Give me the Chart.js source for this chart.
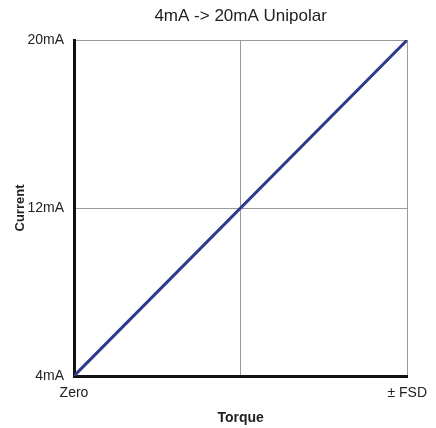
<!DOCTYPE html>
<html>
<head>
<meta charset="utf-8">
<script src="https://cdn.jsdelivr.net/npm/chart.js@4"></script>
<style>
  html, body { margin: 0; padding: 0; background: #ffffff; }
  #wrap { width: 436px; height: 428px; position: relative; }
</style>
</head>
<body>
<div id="wrap"><canvas id="c"></canvas></div>
<script>
const chartTitle = '4mA -> 20mA Unipolar';
const xAxisTitle = 'Torque';
const yAxisTitle = 'Current';
const torqueValues = [0, 1];
const currentValues = [4, 20];
const xTickValues = [0, 0.5, 1];
const xTickLabels = ['Zero', '', '± FSD'];
const yTickValues = [4, 12, 20];
const yTickLabels = ['4mA', '12mA', '20mA'];

const FONT = "Arial, 'Liberation Sans', Helvetica, sans-serif";
const TEXT = '#222222';

const titlePlugin = {
  id: 'centeredTitle',
  afterDraw(chart) {
    const ctx = chart.ctx;
    const a = chart.chartArea;
    ctx.save();
    ctx.font = '17px ' + FONT;
    ctx.fillStyle = TEXT;
    ctx.textAlign = 'center';
    ctx.textBaseline = 'middle';
    ctx.fillText(chartTitle, (a.left + a.right) / 2, 16);
    ctx.restore();
  }
};

new Chart(document.getElementById('c'), {
  type: 'scatter',
  data: {
    datasets: [{
      data: torqueValues.map((x, i) => ({ x: x, y: currentValues[i] })),
      showLine: true,
      borderColor: '#2c3a8c',
      borderWidth: 3,
      pointRadius: 0,
      pointHoverRadius: 0,
      fill: false
    }]
  },
  options: {
    responsive: true,
    maintainAspectRatio: false,
    animation: false,
    layout: { padding: { top: 40, right: 27, left: 0, bottom: 0 } },
    plugins: {
      legend: { display: false },
      title: { display: false },
      tooltip: { enabled: false }
    },
    scales: {
      x: {
        type: 'linear',
        min: 0,
        max: 1,
        afterFit: s => { s.height = 52; },
        afterBuildTicks: s => { s.ticks = xTickValues.map(v => ({ value: v })); },
        ticks: {
          autoSkip: false,
          maxRotation: 0,
          padding: 9,
          color: TEXT,
          font: { family: FONT, size: 14 },
          callback: (v) => { const i = xTickValues.indexOf(v); return i >= 0 ? xTickLabels[i] : ''; }
        },
        grid: { color: '#9a9a9a', lineWidth: 1, drawTicks: false },
        border: { display: true, color: '#111111', width: 3 },
        title: {
          display: true,
          text: xAxisTitle,
          color: TEXT,
          font: { family: FONT, size: 14, weight: 'bold' },
          padding: { top: 0, bottom: 1 }
        }
      },
      y: {
        type: 'linear',
        min: 4,
        max: 20,
        afterFit: s => { s.width = 74; },
        afterBuildTicks: s => { s.ticks = yTickValues.map(v => ({ value: v })); },
        ticks: {
          autoSkip: false,
          padding: 10,
          color: TEXT,
          font: { family: FONT, size: 14 },
          callback: (v) => { const i = yTickValues.indexOf(v); return i >= 0 ? yTickLabels[i] : ''; }
        },
        grid: { color: '#9a9a9a', lineWidth: 1, drawTicks: false },
        border: { display: true, color: '#111111', width: 3 },
        title: {
          display: true,
          text: yAxisTitle,
          color: TEXT,
          font: { family: FONT, size: 13, weight: 'bold' },
          padding: { top: 13, bottom: 0 }
        }
      }
    }
  },
  plugins: [titlePlugin]
});
</script>
</body>
</html>
